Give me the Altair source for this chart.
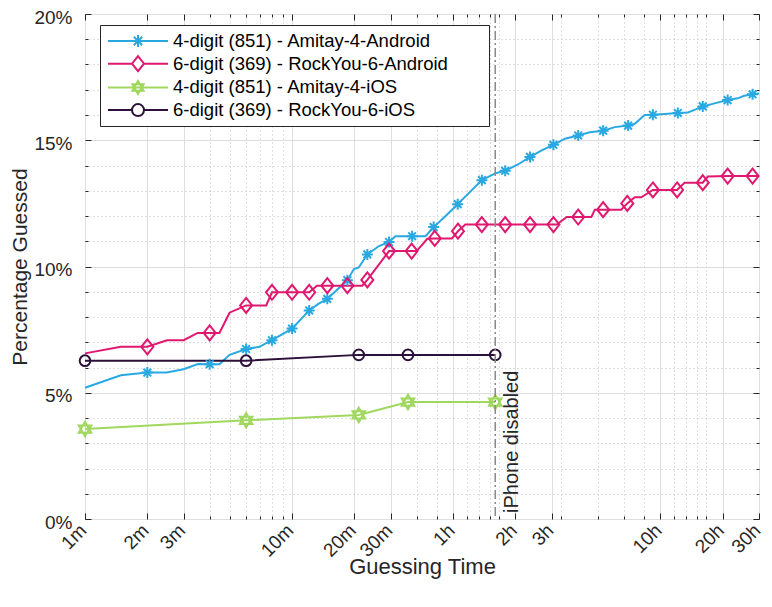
import altair as alt
import pandas as pd

# ---------------- data ----------------
series_names = [
    "4-digit (851) - Amitay-4-Android",
    "6-digit (369) - RockYou-6-Android",
    "4-digit (851) - Amitay-4-iOS",
    "6-digit (369) - RockYou-6-iOS",
]
series_colors = ["#29a9e1", "#e0186f", "#9fd85c", "#2c0f3a"]

# guessing time in minutes, percentage guessed
a4_android_t = [1, 1.49, 2.0, 2.48, 2.99, 3.51, 4.0, 4.46, 4.99, 6.0,
                6.95, 8.0, 10.0, 12.1, 13.4, 14.8, 18.5, 19.9, 21.0, 23.1,
                26.3, 29.4, 31.6, 38.0, 44.1, 48.3, 55.0, 63.1, 82.6, 95.8,
                107, 124, 141, 160.6, 183, 208, 241, 274, 318, 362,
                420, 452, 505, 553, 630, 730, 816, 891, 963, 1097,
                1270, 1420, 1528, 1676, 1800]
a4_android_pct = [5.20, 5.69, 5.80, 5.80, 5.93, 6.14, 6.13, 6.13, 6.50, 6.73,
                  6.82, 7.08, 7.54, 8.26, 8.52, 8.72, 9.46, 9.90, 9.96, 10.48,
                  10.81, 10.97, 11.20, 11.20, 11.20, 11.56, 11.99, 12.47, 13.42, 13.69,
                  13.79, 14.05, 14.34, 14.60, 14.82, 15.06, 15.19, 15.32, 15.38, 15.52,
                  15.58, 15.65, 16.00, 16.01, 16.04, 16.08, 16.10, 16.22, 16.34, 16.46,
                  16.59, 16.66, 16.76, 16.82, 16.85]
a4_android_markers = [2.0, 4.0, 6.0, 8.0, 10.0, 12.1, 14.8, 18.5, 23.1, 29.4, 38.0,
                      48.3, 63.1, 82.6, 107, 141, 183, 241, 318, 420, 553, 730,
                      963, 1270, 1676]

r6_android_t = [1, 1.49, 2.0, 2.49, 3.0, 3.5, 4.0, 4.46, 4.99, 6.0,
                7.5, 8.0, 10.0, 12.1, 13.2, 14.8, 18.5, 21.8, 23.1, 29.4,
                37.8, 40, 45, 48.9, 59.2, 63.3, 68.7, 82.5, 107, 141,
                183, 190, 212, 241, 279, 290, 318, 389, 416, 452,
                486, 553, 724, 786, 963, 1018, 1270, 1676, 1800]
r6_android_pct = [6.56, 6.82, 6.82, 7.08, 7.08, 7.37, 7.37, 7.37, 8.17, 8.46,
                  8.46, 8.98, 8.98, 8.98, 9.24, 9.24, 9.24, 9.24, 9.47, 10.61,
                  10.61, 10.61, 11.10, 11.11, 11.11, 11.40, 11.66, 11.66, 11.66, 11.66,
                  11.66, 11.66, 11.96, 11.96, 11.96, 12.25, 12.25, 12.25, 12.50, 12.74,
                  12.74, 13.03, 13.03, 13.32, 13.32, 13.56, 13.58, 13.58, 13.58]
r6_android_markers = [2.0, 4.0, 6.0, 8.0, 10.0, 12.1, 14.8, 18.5, 23.1, 29.4, 37.8,
                      48.9, 63.3, 82.5, 107, 141, 183, 241, 318, 416, 553, 724,
                      963, 1270, 1676]

a4_ios_t = [1, 6.0, 21.0, 36.3, 95.8]
a4_ios_pct = [3.56, 3.91, 4.12, 4.63, 4.63]
a4_ios_markers = a4_ios_t

r6_ios_t = [1, 6.0, 21.0, 36.3, 95.8]
r6_ios_pct = [6.27, 6.27, 6.50, 6.50, 6.50]
r6_ios_markers = r6_ios_t

disabled_t = [95.8]
disabled_label = ["iPhone disabled"]

x_tick_values = [1, 2, 3, 10, 20, 30, 60, 120, 180, 600, 1200, 1800]
x_minor_values = [4, 5, 6, 7, 8, 9, 40, 50, 70, 80, 90, 100,
                  200, 300, 400, 500, 700, 800, 900, 1000]
y_tick_values = [0, 5, 10, 15, 20]
y_minor_values = [1, 2, 3, 4, 6, 7, 8, 9, 11, 12, 13, 14, 16, 17, 18, 19]

# ---------------- tables ----------------
rows = []
for i, (ts, ps, ms) in enumerate([
    (a4_android_t, a4_android_pct, a4_android_markers),
    (r6_android_t, r6_android_pct, r6_android_markers),
    (a4_ios_t, a4_ios_pct, a4_ios_markers),
    (r6_ios_t, r6_ios_pct, r6_ios_markers),
]):
    for t, p in zip(ts, ps):
        rows.append({"series": series_names[i], "line_color": series_colors[i],
                     "t": t, "pct": p, "marker": 1 if t in ms else 0})
df = pd.DataFrame(rows)
vline_df = pd.DataFrame({"t": disabled_t, "pct": [0], "label": disabled_label})

# ---------------- styles ----------------
FONT = "Liberation Sans"
AX = "#262626"
x_scale = alt.Scale(type="log", domain=[1, 1800], nice=False)
y_scale = alt.Scale(domain=[0, 20], nice=False, zero=False)

asterisk = "M0,-1V1M-1,0H1M-0.7,-0.7L0.7,0.7M-0.7,0.7L0.7,-0.7"
diamond = "M0,-1.25L1,0L0,1.25L-1,0Z"
hexagram = "M0,-1L0.866,0.5L-0.866,0.5ZM0,1L0.866,-0.5L-0.866,-0.5Z"

leg_paths = [
    "M-0.8,0H5.2M2.2,-0.6V0.6M1.78,-0.42L2.62,0.42M1.78,0.42L2.62,-0.42M36.4,0",
    "M-0.8,0H1.6M2.8,0H5.2M2.2,-0.75L2.8,0L2.2,0.75L1.6,0Z",
    "M-0.8,0H5.2M2.2,-0.65L2.763,0.325L1.637,0.325ZM2.2,0.65L2.763,-0.325L1.637,-0.325Z",
    "M-0.8,0H1.6M2.8,0H5.2M2.8,0A0.6,0.6 0 1 1 1.6,0A0.6,0.6 0 1 1 2.8,0",
]


def tick_axis(orient, values, size):
    return alt.Axis(orient=orient, values=values, offset=-size, tickSize=size,
                    ticks=True, labels=False, domain=False, grid=False, title=None,
                    tickColor=AX, tickWidth=1)


def grid_axis(orient, values):
    return alt.Axis(orient=orient, values=values, ticks=False, labels=False,
                    domain=False, grid=True, gridColor="#bfbfbf", gridDash=[1, 3],
                    gridWidth=1, title=None)


main_x_axis = alt.Axis(
    orient="bottom", values=x_tick_values,
    labelExpr="datum.value < 60 ? datum.value + 'm' : (datum.value / 60) + 'h'",
    labelAngle=315, labelAlign="right", labelBaseline="middle", labelPadding=8,
    labelOffset=-2,
    labelFontSize=19, labelFont=FONT, labelColor=AX, labelOverlap=False,
    labelFlush=False, ticks=False, domain=False, grid=True, gridColor="#dedede",
    gridWidth=1, title="Guessing Time", titleFontSize=22, titleFont=FONT,
    titleFontWeight="normal", titleColor=AX, titleY=54, titleBaseline="alphabetic",
)
main_y_axis = alt.Axis(
    orient="left", values=y_tick_values, labelExpr="datum.value + '%'",
    labelPadding=13, labelOffset=3, labelFontSize=19, labelFont=FONT, labelColor=AX,
    ticks=False, domain=False, grid=True, gridColor="#dedede", gridWidth=1,
    title="Percentage Guessed", titleFontSize=21, titleFont=FONT,
    titleFontWeight="normal", titleColor=AX, titleX=-59, titleBaseline="alphabetic",
)

lines = alt.Chart(df).mark_line(strokeWidth=2).encode(
    x=alt.X("t:Q", scale=x_scale, axis=main_x_axis),
    y=alt.Y("pct:Q", scale=y_scale, axis=main_y_axis),
    stroke=alt.Stroke("line_color:N", scale=None),
    detail="series:N",
    order=alt.Order("t:Q"),
)


def markers(idx, shape, size, x_axis, y_axis):
    return alt.Chart(df).transform_filter(
        (alt.datum.series == series_names[idx]) & (alt.datum.marker == 1)
    ).mark_point(shape=shape, size=size, filled=False, strokeWidth=2,
                 color=series_colors[idx], opacity=1).encode(
        x=alt.X("t:Q", scale=x_scale, axis=x_axis),
        y=alt.Y("pct:Q", scale=y_scale, axis=y_axis),
    )


m_blue = markers(0, asterisk, 121, grid_axis("bottom", x_minor_values), grid_axis("left", y_minor_values))
m_red = markers(1, diamond, 144, tick_axis("top", x_tick_values, 6), tick_axis("left", y_tick_values, 6))
m_green = markers(2, hexagram, 210, tick_axis("bottom", x_tick_values, 6), tick_axis("right", y_tick_values, 6))
m_purple = markers(3, "circle", 113, tick_axis("top", x_minor_values, 3), tick_axis("left", y_minor_values, 3))

legend_def = alt.Legend(
    title=None, orient="none", legendX=15, legendY=11, symbolSize=400,
    symbolStrokeWidth=2, labelOffset=46, labelFontSize=18.5, labelFont=FONT,
    labelColor="#000000", padding=5, rowPadding=0.7, strokeColor=AX,
    fillColor="#ffffff", labelLimit=400,
)
legend_layer = alt.Chart(df).transform_filter("false").mark_point(
    size=400, filled=False, strokeWidth=2, opacity=1
).encode(
    x=alt.X("t:Q", scale=x_scale, axis=tick_axis("bottom", x_minor_values, 3)),
    y=alt.Y("pct:Q", scale=y_scale, axis=tick_axis("right", y_minor_values, 3)),
    color=alt.Color("series:N",
                    scale=alt.Scale(domain=series_names, range=series_colors),
                    legend=legend_def),
    shape=alt.Shape("series:N", scale=alt.Scale(domain=series_names, range=leg_paths),
                    legend=legend_def),
)

vline = alt.Chart(vline_df).mark_rule(
    color="#8a8a8a", strokeWidth=1.5, strokeDash=[9, 3, 2, 3]
).encode(x=alt.X("t:Q", scale=x_scale, axis=None))

vtext = alt.Chart(vline_df).mark_text(
    angle=270, align="left", baseline="top", dx=6, dy=7, fontSize=20,
    font=FONT, color=AX
).encode(
    x=alt.X("t:Q", scale=x_scale, axis=None),
    y=alt.Y("pct:Q", scale=y_scale, axis=None),
    text="label:N",
)

chart = alt.layer(
    lines, m_blue, m_red, m_green, m_purple, legend_layer, vline, vtext
).resolve_axis(
    x="independent", y="independent"
).properties(
    width=674, height=505,
    padding={"left": 77, "top": 6, "right": 5, "bottom": 80},
    autosize=alt.AutoSizeParams(type="none"),
).configure(font=FONT).configure_view(stroke=AX, strokeWidth=1)

chart.save("out.html", embed_options={"renderer": "svg", "actions": False})
